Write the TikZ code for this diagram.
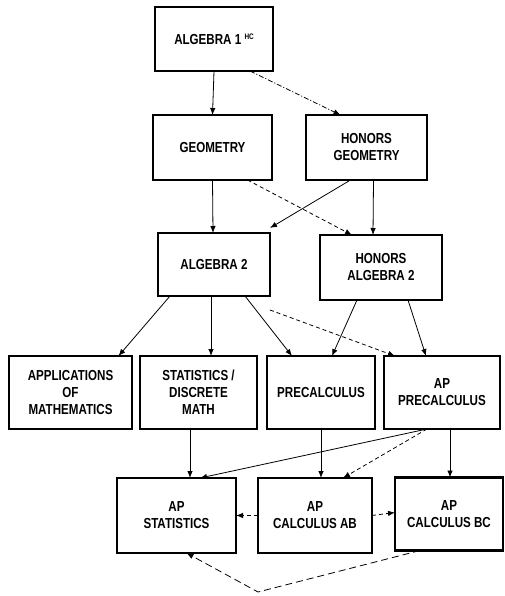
\documentclass[tikz,border=0pt]{standalone}
\usepackage{fontspec}
\setmainfont{Liberation Sans}[FakeStretch=0.8]
\usetikzlibrary{arrows.meta}
\begin{document}
\begin{tikzpicture}[x=1pt, y=-1pt]
\tikzset{ >={Latex[length=7pt, width=5.5pt]}, inner sep=0pt, outer sep=0pt,
  curso/.style={draw, line width=2.8pt, align=center, font=\fontsize{14.5}{17}\selectfont\bfseries},
  seta/.style={->, line width=0.8pt},
  tracos/.style={->, line width=0.8pt, dash pattern=on 4pt off 3pt},
}

\useasboundingbox (0,0) rectangle (505,596);
%\draw [lightgray, dashed](0,0) grid[step=50] (505,596);

%%% Blocos

% linha 1
\node [curso, minimum width=118, minimum height=64] (alg1) at (214,39) {ALGEBRA 1 \raisebox{0.6ex}{\fontsize{8}{8}\selectfont HC}};

% linha 2
\node [curso, minimum width=119, minimum height=65] (geom)  at (212.5,147.5) {GEOMETRY};
\node [curso, minimum width=121, minimum height=65] (hgeom) at (366.5,147.5) {HONORS\\GEOMETRY};

% linha 3
\node [curso, minimum width=112, minimum height=63] (alg2)  at (214,264.5) {ALGEBRA 2};
\node [curso, minimum width=122, minimum height=65] (halg2) at (381,267.5) {HONORS\\ALGEBRA 2};

% linha 4
\node [curso, minimum width=123, minimum height=73] (apli)  at (70.5,392.5)  {APPLICATIONS\\OF\\MATHEMATICS};
\node [curso, minimum width=117, minimum height=73] (estat) at (198.5,392.5) {STATISTICS /\\DISCRETE\\MATH};
\node [curso, minimum width=108, minimum height=73] (pre)   at (321,392.5)   {PRECALCULUS};
\node [curso, minimum width=116, minimum height=73] (appre) at (442,392.5)   {AP\\PRECALCULUS};

% linha 5
\node [curso, minimum width=119, minimum height=75] (apest) at (176.5,515.5) {AP\\STATISTICS};
\node [curso, minimum width=114, minimum height=75] (calab) at (315,515.5)   {AP\\CALCULUS AB};
\node [curso, minimum width=108, minimum height=73] (calbc) at (449,514)     {AP\\CALCULUS BC};

\coordinate (volta) at (258,592);

%%% Linhas

% algebra 1 -> geometria
\draw [seta] (alg1.south) -- (geom.north);
\draw [->, line width=0.8pt, dash pattern=on 5pt off 2pt on 1pt off 2pt] ([xshift=36]alg1.south) -- ([xshift=-26]hgeom.north);

% geometria -> algebra 2
\draw [seta] (geom.south) -- ([xshift=-1]alg2.north);
\draw [seta] ([xshift=-16]hgeom.south) -- ([yshift=5]alg2.north east);
\draw [seta] ([xshift=7]hgeom.south) -- ([xshift=-8]halg2.north);
\draw [tracos] ([xshift=35]geom.south) -- ([xshift=-29]halg2.north);

% algebra 2 -> linha 4
\draw [seta] ([xshift=-44]alg2.south) -- ([xshift=48]apli.north);
\draw [seta] ([xshift=-3]alg2.south) -- ([xshift=12.5]estat.north);
\draw [seta] ([xshift=31]alg2.south) -- ([xshift=-29]pre.north);
\draw [tracos] ([yshift=-14]alg2.south east) -- ([xshift=-47]appre.north);
\draw [seta] ([xshift=-24]halg2.south) -- ([xshift=11]pre.north);
\draw [seta] ([xshift=27]halg2.south) -- ([xshift=-16]appre.north);

% linha 4 -> linha 5
\draw [seta] ([xshift=-8.5]estat.south) -- ([xshift=13.5]apest.north);
\draw [seta] (pre.south) -- ([xshift=6]calab.north);
\draw [seta] ([xshift=8]appre.south) -- ([xshift=1]calbc.north);
\draw [seta] ([xshift=-15]appre.south) -- ([xshift=23.5]apest.north);
\draw [tracos] ([xshift=-15]appre.south) -- ([xshift=28]calab.north);

% entre os AP
\draw [tracos] (calab.west) -- (apest.east);
\draw [tracos] (calab.east) -- ([yshift=1.5]calbc.west);

% calculo BC -> estatistica
\draw [->, line width=0.8pt, dash pattern=on 7pt off 4pt] ([xshift=-29]calbc.south) -- (volta) -- ([xshift=10]apest.south);

\end{tikzpicture}
\end{document}
